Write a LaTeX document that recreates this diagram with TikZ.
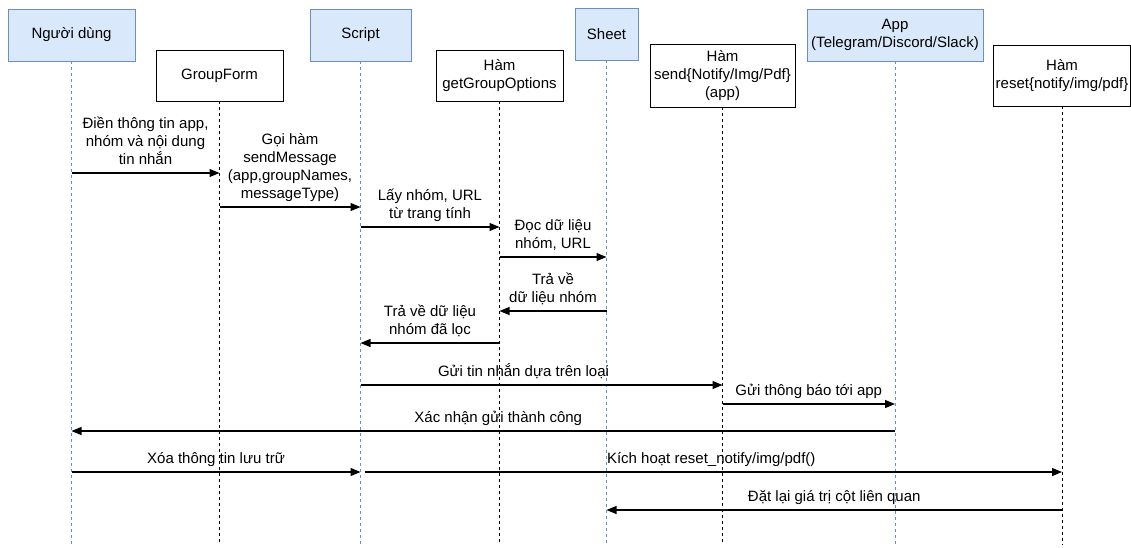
\documentclass[tikz,border=0pt]{standalone}
\usepackage{fontspec}
\setmainfont{Liberation Sans}
\usetikzlibrary{arrows.meta}
\definecolor{boxblue}{HTML}{DAE8FC}
\definecolor{edgeblue}{HTML}{6C8EBF}

\begin{document}
\begin{tikzpicture}[x=1pt,y=-1pt,
    font=\fontsize{15}{18}\selectfont,
    actor/.style={draw=edgeblue,fill=boxblue,line width=0.8pt,inner sep=0pt,align=center},
    func/.style={draw=black,fill=white,line width=0.8pt,inner sep=0pt,align=center},
    lifeblue/.style={draw=edgeblue,line width=0.7pt,dash pattern=on 3pt off 3pt},
    lifeblack/.style={draw=black,line width=0.9pt,dash pattern=on 3pt off 3pt},
    msg/.style={-{Triangle[length=10pt,width=8pt]},line width=1.1pt},
    txt/.style={anchor=south,align=center,text depth=0pt,inner sep=0pt,yshift=8pt}]
    \useasboundingbox (0,0) rectangle (1131,547);
    % participants
    \node[actor,minimum width=127pt,minimum height=52pt] (user) at (71.5,35) {Người dùng};
    \node[func,minimum width=127pt,minimum height=51pt] (form) at (219.5,75.5) {GroupForm};
    \node[actor,minimum width=101pt,minimum height=52pt] (script) at (360.5,35) {Script};
    \node[func,minimum width=127pt,minimum height=51pt] (getopt) at (499.5,75.5) {Hàm\\getGroupOptions};
    \node[actor,minimum width=63pt,minimum height=52pt] (sheet) at (606.5,34) {Sheet};
    \node[func,minimum width=145pt,minimum height=63pt] (send) at (722.5,75.5) {Hàm\\send\{Notify/Img/Pdf\}\\(app)};
    \node[actor,minimum width=176pt,minimum height=52pt] (app) at (895,35) {App\\(Telegram/Discord/Slack)};
    \node[func,minimum width=137pt,minimum height=61pt] (reset) at (1062,75.5) {Hàm\\reset\{notify/img/pdf\}};
    % lifelines
    \coordinate (bottom) at (0,545);
    \draw[lifeblue] (user.south) -- (user |- bottom);
    \draw[lifeblack] (form.south) -- (form |- bottom);
    \draw[lifeblue] (script.south) -- (script |- bottom);
    \draw[lifeblack] (getopt.south) -- (getopt |- bottom);
    \draw[lifeblue] (sheet.south) -- (sheet |- bottom);
    \draw[lifeblack] (send.south) -- (send |- bottom);
    \draw[lifeblue] (app.south) -- (app |- bottom);
    \draw[lifeblack] (reset.south) -- (reset |- bottom);
    % message rows
    \coordinate (r1) at (0,173);
    \coordinate (r2) at (0,207);
    \coordinate (r3) at (0,227);
    \coordinate (r4) at (0,257);
    \coordinate (r5) at (0,311);
    \coordinate (r6) at (0,343);
    \coordinate (r7) at (0,385);
    \coordinate (r8) at (0,404);
    \coordinate (r9) at (0,431);
    \coordinate (r10) at (0,472);
    \coordinate (r11) at (0,510);
    % messages
    \draw[msg] (user |- r1) -- node[txt]{Điền thông tin app,\\nhóm và nội dung\\tin nhắn} (form |- r1);
    \draw[msg] (form |- r2) -- node[txt]{Gọi hàm\\sendMessage\\(app,groupNames,\\messageType)} (script |- r2);
    \draw[msg] (script |- r3) -- node[txt]{Lấy nhóm, URL\\từ trang tính} (getopt |- r3);
    \draw[msg] (getopt |- r4) -- node[txt]{Đọc dữ liệu\\nhóm, URL} (sheet |- r4);
    \draw[msg] (sheet |- r5) -- node[txt]{Trả về\\dữ liệu nhóm} (getopt |- r5);
    \draw[msg] (getopt |- r6) -- node[txt]{Trả về dữ liệu\\nhóm đã lọc} (script |- r6);
    \draw[msg] (script |- r7) -- node[txt,xshift=-18pt]{Gửi tin nhắn dựa trên loại} (send |- r7);
    \draw[msg] (send |- r8) -- node[txt]{Gửi thông báo tới app} (app |- r8);
    \draw[msg] (app |- r9) -- node[txt,xshift=15pt]{Xác nhận gửi thành công} (user |- r9);
    \draw[msg] (user |- r10) -- node[txt]{Xóa thông tin lưu trữ} (script |- r10);
    \draw[msg,shorten <=4pt] (script |- r10) -- node[txt]{Kích hoạt reset\_notify/img/pdf()} (reset |- r10);
    \draw[msg] (reset |- r11) -- node[txt]{Đặt lại giá trị cột liên quan} (sheet |- r11);
  \end{tikzpicture}
\end{document}
